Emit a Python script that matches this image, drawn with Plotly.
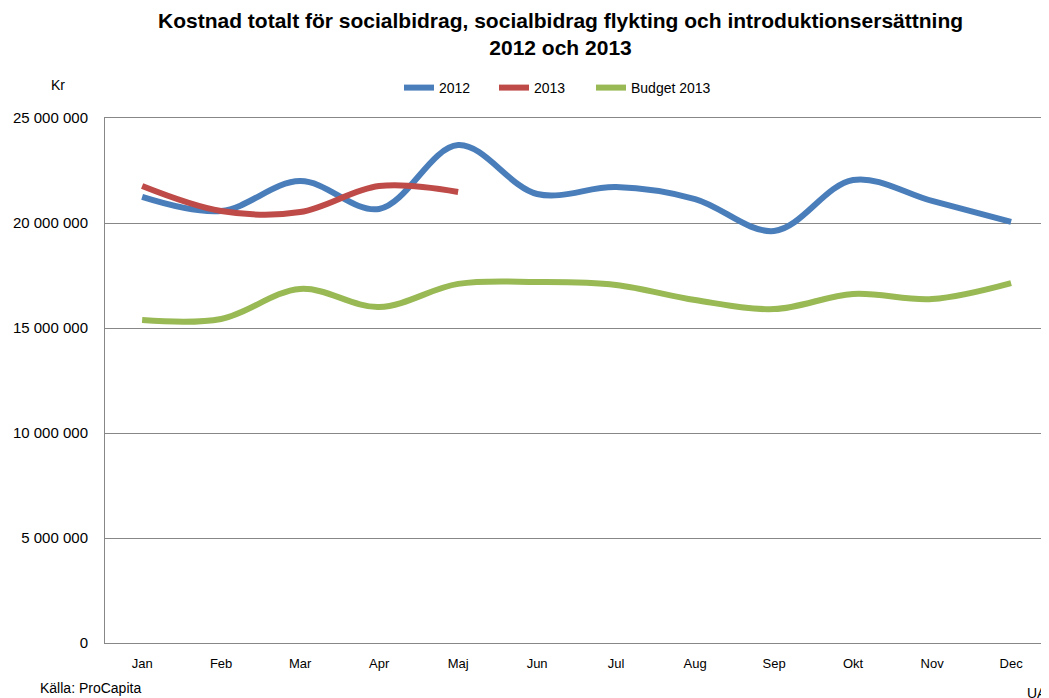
import plotly.graph_objects as go

months = ["Jan", "Feb", "Mar", "Apr", "Maj", "Jun", "Jul", "Aug", "Sep", "Okt", "Nov", "Dec"]
y2012 = [21.24e6, 20.57e6, 22.0e6, 20.67e6, 23.71e6, 21.38e6, 21.71e6, 21.14e6, 19.62e6, 22.05e6, 21.05e6, 20.05e6]
y2013 = [21.76e6, 20.57e6, 20.52e6, 21.76e6, 21.48e6]
budget2013 = [15.38e6, 15.43e6, 16.86e6, 16.0e6, 17.1e6, 17.19e6, 17.05e6, 16.33e6, 15.9e6, 16.62e6, 16.38e6, 17.14e6]
ytick_vals = [0, 5e6, 10e6, 15e6, 20e6, 25e6]
ytick_text = ["0", "5 000 000", "10 000 000", "15 000 000", "20 000 000", "25 000 000"]

FONT = "Liberation Sans, Arial, sans-serif"
OFF = 8  # page body margin
W, H = 1049 - OFF, 698 - OFF
L, R, T, B = 105 - OFF, 0, 118 - OFF, 55

fig = go.Figure()
fig.add_trace(go.Scatter(x=months, y=y2012, name="2012", mode="lines", legend="legend",
                         line=dict(color="#4A7EBB", width=6, shape="spline", smoothing=1.0)))
fig.add_trace(go.Scatter(x=months[:len(y2013)], y=y2013, name="2013", mode="lines", legend="legend2",
                         line=dict(color="#BE4B48", width=6, shape="spline", smoothing=1.0)))
fig.add_trace(go.Scatter(x=months, y=budget2013, name="Budget 2013", mode="lines", legend="legend3",
                         line=dict(color="#98B954", width=6, shape="spline", smoothing=1.0)))

def px_x(x):
    return (x - OFF - L) / (W - L - R)

def px_y(y):
    return (H - B - (y - OFF)) / (H - T - B)

def leg(xpix):
    return dict(orientation="h", x=px_x(xpix), y=px_y(88), xanchor="left", yanchor="middle",
                font=dict(size=14, family=FONT, color="#000"), itemwidth=30,
                bgcolor="rgba(0,0,0,0)")

fig.update_layout(
    width=W, height=H,
    margin=dict(l=L, r=R, t=T, b=B),
    paper_bgcolor="white", plot_bgcolor="white",
    font=dict(family=FONT, size=13, color="#000000"),
    showlegend=True,
    legend=leg(399),
    legend2=leg(494),
    legend3=leg(591),
    xaxis=dict(type="category", categoryorder="array", categoryarray=months,
               range=[-0.47, 11.48], showgrid=False, showline=True, linecolor="#878787",
               linewidth=1, mirror=True, ticks="", ticklabelstandoff=8,
               tickfont=dict(size=13, family=FONT, color="#000")),
    yaxis=dict(range=[0, 25e6], tickvals=ytick_vals, ticktext=ytick_text,
               showgrid=True, gridcolor="#878787", gridwidth=1, showline=True,
               linecolor="#878787", linewidth=1, mirror=True, ticks="", zeroline=False,
               ticklabelstandoff=13, tickfont=dict(size=15, family=FONT, color="#000")),
    annotations=[
        dict(text="<b>Kostnad totalt för socialbidrag, socialbidrag flykting och introduktionsersättning<br>2012 och 2013</b>",
             xref="paper", yref="paper", x=px_x(560), y=px_y(34), xanchor="center", yanchor="middle",
             showarrow=False, font=dict(size=21, family=FONT, color="#000")),
        dict(text="Kr", xref="paper", yref="paper", x=px_x(58), y=px_y(85), xanchor="center",
             yanchor="middle", showarrow=False, font=dict(size=14, family=FONT, color="#000")),
        dict(text="Källa: ProCapita", xref="paper", yref="paper", x=px_x(38), y=px_y(688),
             xanchor="left", yanchor="middle", showarrow=False,
             font=dict(size=14, family=FONT, color="#000")),
        dict(text="UAK", xref="paper", yref="paper", x=px_x(1025), y=px_y(693),
             xanchor="left", yanchor="middle", showarrow=False,
             font=dict(size=14, family=FONT, color="#000")),
    ],
)

fig.write_html("out.html")
